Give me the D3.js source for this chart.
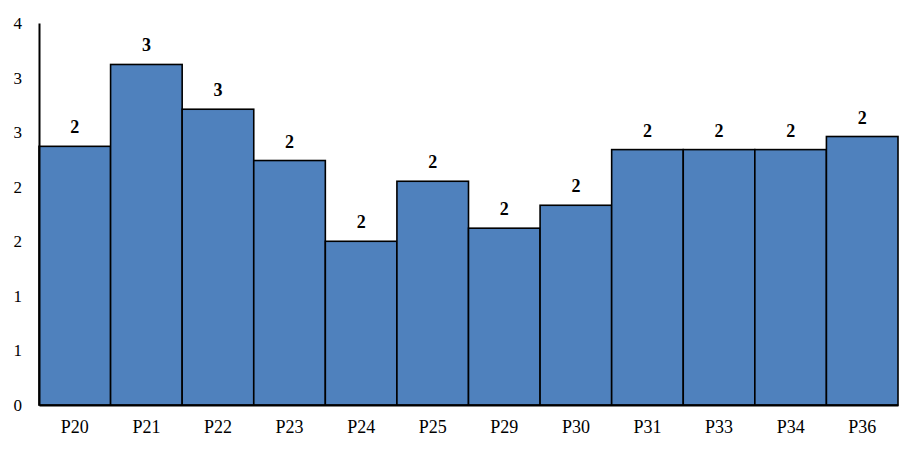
<!DOCTYPE html>
<html lang="en">
<head>
  <meta charset="UTF-8">
  <title>Bar chart</title>
  <script src="https://d3js.org/d3.v7.min.js"></script>
  <style>
    body { margin: 0; background: #fff; }
    svg { display: block; }
  </style>
</head>
<body>
  <svg></svg>
  <script>
    // dados
    const categories = ['P20', 'P21', 'P22', 'P23', 'P24', 'P25', 'P29', 'P30', 'P31', 'P33', 'P34', 'P36'];
    const values = [2.37, 3.12, 2.71, 2.24, 1.50, 2.05, 1.62, 1.83, 2.34, 2.34, 2.34, 2.46];
    const yTicks = [0, 0.5, 1, 1.5, 2, 2.5, 3, 3.5];

    const FONT = "'Liberation Serif', 'Times New Roman', 'DejaVu Serif', serif";
    const W = 921, H = 451;
    const margin = {top: 23, right: 23, bottom: 46, left: 39};
    const width = W - margin.left - margin.right;
    const height = H - margin.top - margin.bottom;

    const svg = d3.select('svg').attr('width', W).attr('height', H)
      .append('g')
      .attr('transform', `translate(${margin.left}, ${margin.top})`);

    const x = d3.scaleBand().domain(categories).range([0, width]).padding(0);
    const y = d3.scaleLinear().domain([0, 3.5]).range([height, 0]);

    // barras
    svg.selectAll('rect.bar')
      .data(values)
      .enter()
      .append('rect')
      .attr('class', 'bar')
      .attr('x', (d, i) => x(categories[i]))
      .attr('y', d => y(d))
      .attr('width', x.bandwidth())
      .attr('height', d => height - y(d))
      .attr('fill', '#4f81bd')
      .attr('stroke', '#000')
      .attr('stroke-width', 1.6);

    // rotulos
    svg.selectAll('text.lbl')
      .data(values)
      .enter()
      .append('text')
      .attr('class', 'lbl')
      .attr('x', (d, i) => x(categories[i]) + x.bandwidth() / 2)
      .attr('y', d => y(d) - 13)
      .attr('text-anchor', 'middle')
      .attr('font-family', FONT)
      .attr('font-size', 18)
      .attr('font-weight', 'bold')
      .attr('fill', '#000')
      .text(d => Math.round(d));

    // eixos
    const yAxis = svg.append('g')
      .call(d3.axisLeft(y).tickValues(yTicks).tickSize(0).tickPadding(17).tickFormat(d => Math.round(d)));
    yAxis.attr('font-family', FONT).attr('font-size', 17);
    yAxis.selectAll('text').attr('fill', '#000');
    yAxis.select('.domain').attr('stroke', '#000').attr('stroke-width', 2);

    const xAxis = svg.append('g')
      .attr('transform', `translate(0, ${height})`)
      .call(d3.axisBottom(x).tickSize(0).tickPadding(15));
    xAxis.attr('font-family', FONT).attr('font-size', 18);
    xAxis.selectAll('text').attr('fill', '#000');
    xAxis.select('.domain').attr('stroke', '#000').attr('stroke-width', 2);
  </script>
</body>
</html>
